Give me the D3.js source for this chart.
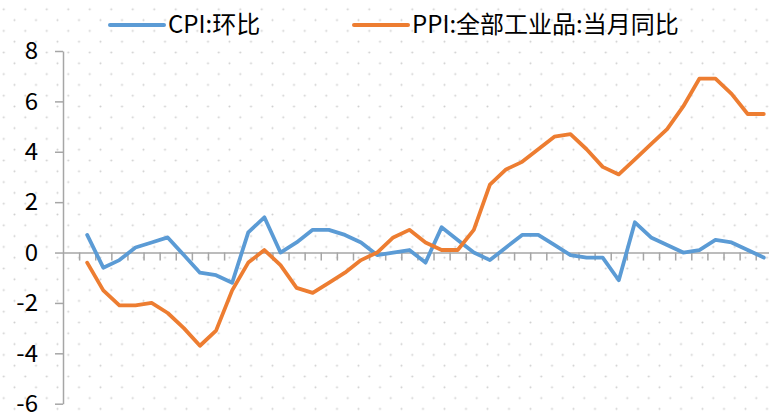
<!DOCTYPE html>
<html>
<head>
<meta charset="utf-8">
<script src="https://cdn.jsdelivr.net/npm/d3@7"></script>
<style>
  body { margin: 0; background: #fff; }
  svg { display: block; }
</style>
</head>
<body>
<svg id="chart"></svg>
<script>
// months, newest on the left (the first slot has no data yet)
const months = [
    "2021-01", "2020-12", "2020-11", "2020-10", "2020-09", "2020-08", "2020-07", "2020-06",
    "2020-05", "2020-04", "2020-03", "2020-02", "2020-01", "2019-12", "2019-11", "2019-10",
    "2019-09", "2019-08", "2019-07", "2019-06", "2019-05", "2019-04", "2019-03", "2019-02",
    "2019-01", "2018-12", "2018-11", "2018-10", "2018-09", "2018-08", "2018-07", "2018-06",
    "2018-05", "2018-04", "2018-03", "2018-02", "2018-01", "2017-12", "2017-11", "2017-10",
    "2017-09", "2017-08", "2017-07", "2017-06"
];

const cpiMoM = [
    null, 0.7, -0.6, -0.3, 0.2, 0.4, 0.6, -0.1,
    -0.8, -0.9, -1.2, 0.8, 1.4, 0.0, 0.4, 0.9,
    0.9, 0.7, 0.4, -0.1, 0.0, 0.1, -0.4, 1.0,
    0.5, 0.0, -0.3, 0.2, 0.7, 0.7, 0.3, -0.1,
    -0.2, -0.2, -1.1, 1.2, 0.6, 0.3, 0.0, 0.1,
    0.5, 0.4, 0.1, -0.2
];

const ppiYoY = [
    null, -0.4, -1.5, -2.1, -2.1, -2.0, -2.4, -3.0,
    -3.7, -3.1, -1.5, -0.4, 0.1, -0.5, -1.4, -1.6,
    -1.2, -0.8, -0.3, 0.0, 0.6, 0.9, 0.4, 0.1,
    0.1, 0.9, 2.7, 3.3, 3.6, 4.1, 4.6, 4.7,
    4.1, 3.4, 3.1, 3.7, 4.3, 4.9, 5.8, 6.9,
    6.9, 6.3, 5.5, 5.5
];

const yTicks = [-6, -4, -2, 0, 2, 4, 6, 8];

const seriesNames = ["CPI:环比", "PPI:全部工业品:当月同比"];
const colors = ["#5b9bd5", "#ed7d31"];

const width = 769, height = 413;
const plot = { left: 63, top: 51, bottom: 403.7, step: 16.11 };

const svg = d3.select("#chart")
    .attr("width", width)
    .attr("height", height)
    .style("font-family", "'Noto Sans CJK SC', 'Noto Sans', sans-serif");

// dotted background
const defs = svg.append("defs");
const pat = defs.append("pattern")
    .attr("id", "dots")
    .attr("patternUnits", "userSpaceOnUse")
    .attr("x", -1.6)
    .attr("y", 3.9)
    .attr("width", 21.5)
    .attr("height", 21.6);
pat.append("circle").attr("cx", 5.375).attr("cy", 5.4).attr("r", 1).attr("fill", "#cfcfcf");
pat.append("circle").attr("cx", 16.125).attr("cy", 16.2).attr("r", 1).attr("fill", "#cfcfcf");

svg.append("rect")
    .attr("width", width)
    .attr("height", height)
    .attr("fill", "url(#dots)");

const x = d3.scaleBand()
    .domain(months)
    .range([plot.left, plot.left + months.length * plot.step])
    .padding(0);

// boundaries between categories, for the tick marks
const xEdge = d3.scaleLinear()
    .domain([0, months.length])
    .range(x.range());

const y = d3.scaleLinear()
    .domain([-6, 8])
    .range([plot.bottom, plot.top]);

const axisColor = "#a6a6a6";

// y axis
const yAxis = svg.append("g")
    .attr("transform", `translate(${plot.left},0)`)
    .call(d3.axisLeft(y)
        .tickValues(yTicks)
        .tickFormat(d => String(d))
        .tickSize(8)
        .tickSizeOuter(0)
        .tickPadding(17));
yAxis.select(".domain").attr("stroke", axisColor).attr("stroke-width", 1.5);
yAxis.selectAll(".tick line").attr("stroke", axisColor).attr("stroke-width", 1.5);
yAxis.selectAll(".tick text")
    .attr("fill", "#000")
    .attr("font-size", 24)
    .attr("font-family", "'Noto Sans CJK SC', sans-serif");

// x axis on the zero line, ticks between months
const xAxis = svg.append("g")
    .attr("transform", `translate(0,${y(0)})`)
    .call(d3.axisBottom(xEdge)
        .tickValues(d3.range(1, months.length + 1))
        .tickFormat("")
        .tickSize(8)
        .tickSizeOuter(0));
xAxis.select(".domain").attr("stroke", axisColor).attr("stroke-width", 1.5);
xAxis.selectAll(".tick line").attr("stroke", axisColor).attr("stroke-width", 1.5);

// lines
const series = [cpiMoM, ppiYoY];

const line = d3.line()
    .defined(d => d.v !== null)
    .x(d => x(d.m) + x.bandwidth() / 2)
    .y(d => y(d.v));

svg.append("g")
    .selectAll("path")
    .data(series.map((vals, i) => ({ i, pts: months.map((m, j) => ({ m, v: vals[j] })) })))
    .join("path")
    .attr("d", d => line(d.pts))
    .attr("fill", "none")
    .attr("stroke", d => colors[d.i])
    .attr("stroke-width", 3.8)
    .attr("stroke-linejoin", "round")
    .attr("stroke-linecap", "round");

// legend
const legendX = [110, 354];

const legend = svg.append("g")
    .selectAll("g")
    .data(seriesNames)
    .join("g")
    .attr("transform", (d, i) => `translate(${legendX[i]},25)`);

legend.append("line")
    .attr("x1", 0)
    .attr("x2", 54)
    .attr("stroke", (d, i) => colors[i])
    .attr("stroke-width", 4)
    .attr("stroke-linecap", "round");

legend.append("text")
    .attr("x", 58)
    .attr("dy", "0.35em")
    .attr("font-size", 24)
    .attr("fill", "#000")
    .text(d => d);
</script>
</body>
</html>
